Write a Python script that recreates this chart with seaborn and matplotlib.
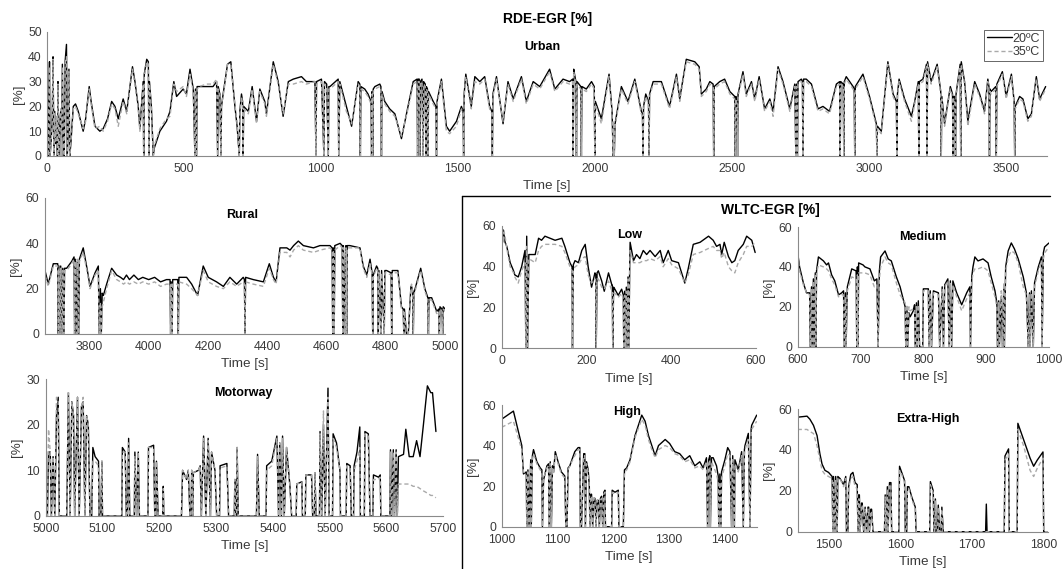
import numpy as np
import matplotlib
matplotlib.use("Agg")
import matplotlib.pyplot as plt
from matplotlib.lines import Line2D
import seaborn as sns

# ---------------- data: (time [s], EGR 20ºC [%], EGR 35ºC [%]) ----------------
urban_data = [
(0,10,8),(3,0,0),(5,20,18),(8,38,36),(10,0,0),(14,6,5),(18,15,14),(21,40,39),(24,0,0),(27,18,17),
(30,5,6),(34,15,16),(37,0,0),(39,30,29),(42,0,0),(45,12,11),(49,18,19),(52,0,0),(55,37,36),(58,8,9),
(62,0,0),(65,38,37),(70,45,40),(73,0,0),(76,10,12),(79,35,34),(82,0,0),(86,5,6),(90,12,10),
(95,20,19),(103,21,20),(113,18,17),(131,10,11),(140,15,14),(153,28,27),(160,22,21),(174,12,11),
(192,10,12),(204,11,10),(220,15,14),(235,22,21),(247,20,19),(259,15,12),(270,20,18),(277,23,22),
(290,18,17),(311,36,35),(320,30,29),(332,20,19),(338,11,10),(350,30,29),(352,0,0),(354,33,32),
(363,39,38),(369,38,37),(371,0,0),(373,30,29),(380,20,19),(387,0,0),(390,3,4),(411,10,11),
(435,14,15),(448,18,16),(462,30,29),(472,24,26),(496,27,28),(508,25,24),(521,35,33),(533,27,26),
(539,0,0),(541,27,26),(545,0,0),(547,28,27),(555,28,28),(581,28,29),(605,28,29),(618,30,31),
(622,0,0),(624,28,27),(630,25,24),(634,0,0),(636,20,21),(642,25,24),(658,37,37),(670,38,37),
(685,20,21),(693,12,13),(701,0,0),(703,18,17),(709,25,24),(713,22,21),(715,0,0),(717,20,19),
(734,18,17),(748,28,27),(764,14,13),(776,27,26),(794,22,21),(800,17,16),(825,38,37),(843,30,29),
(861,16,17),(880,30,29),(898,31,29),(928,32,30),(946,30,29),(977,30,30),(981,0,0),(983,30,29),
(1001,31,30),(1010,0,0),(1012,30,29),(1020,29,28),(1026,0,0),(1028,28,27),(1032,28,27),(1062,31,30),
(1064,0,0),(1068,30,29),(1092,20,18),(1111,12,13),(1135,30,29),(1141,29,28),(1143,0,0),(1145,28,27),
(1159,27,26),(1171,25,24),(1182,22,21),(1184,0,0),(1186,26,25),(1188,0,0),(1190,27,26),(1196,28,27),
(1214,29,28),(1218,28,27),(1220,0,0),(1222,26,25),(1232,22,21),(1250,19,18),(1269,17,16),(1293,7,8),
(1317,20,19),(1336,30,29),(1350,31,30),(1352,0,0),(1354,31,30),(1358,31,30),(1360,0,0),(1362,30,29),
(1368,31,30),(1372,0,0),(1374,30,29),(1380,29,28),(1382,0,0),(1384,28,27),(1388,27,26),(1390,0,0),
(1392,26,25),(1409,22,21),(1419,20,19),(1421,0,0),(1423,22,21),(1439,31,30),(1457,12,10),(1469,10,9),
(1494,14,12),(1512,20,19),(1518,18,17),(1520,0,0),(1522,25,24),(1528,33,32),(1548,20,19),(1561,32,30),
(1579,30,29),(1597,32,31),(1615,20,19),(1623,18,17),(1625,0,0),(1627,25,24),(1640,32,31),(1664,13,14),
(1682,30,29),(1701,23,22),(1731,32,31),(1749,22,21),(1774,30,29),(1798,28,27),(1834,35,34),(1853,27,26),
(1883,31,30),(1907,30,29),(1918,31,30),(1920,0,0),(1922,35,34),(1925,33,32),(1930,30,29),(1932,0,0),
(1934,30,29),(1948,28,27),(1950,0,0),(1952,28,27),(1968,27,26),(1987,30,29),(1997,28,27),(1999,0,0),
(2001,22,21),(2023,15,13),(2051,33,32),(2062,18,17),(2066,0,0),(2068,13,14),(2070,0,0),(2073,13,12),
(2096,28,27),(2120,22,21),(2145,31,30),(2169,18,17),(2173,17,16),(2175,0,0),(2177,20,19),(2185,25,24),
(2195,22,21),(2197,0,0),(2199,25,24),(2212,30,29),(2242,30,29),(2272,20,19),(2297,33,32),(2309,23,22),
(2333,39,38),(2364,38,37),(2380,36,35),(2388,25,24),(2406,27,26),(2419,30,29),(2431,29,28),(2433,0,0),
(2435,28,27),(2455,30,29),(2473,31,30),(2492,26,25),(2510,24,23),(2512,0,0),(2514,24,23),(2518,22,21),
(2520,0,0),(2522,25,24),(2540,34,33),(2552,25,24),(2571,30,29),(2583,23,22),(2599,32,31),(2619,19,18),
(2638,23,22),(2650,18,16),(2668,36,35),(2686,30,29),(2711,19,18),(2729,29,28),(2733,0,0),(2735,29,28),
(2739,0,0),(2741,30,29),(2753,31,30),(2757,30,29),(2759,0,0),(2761,31,30),(2771,31,30),(2790,29,28),
(2814,19,18),(2832,20,19),(2856,18,17),(2881,29,28),(2893,30,29),(2895,0,0),(2897,30,29),(2906,29,28),
(2908,0,0),(2910,30,29),(2917,32,31),(2942,28,27),(2946,27,26),(2948,0,0),(2950,28,27),(2978,33,32),
(3002,24,23),(3027,13,12),(3029,0,0),(3031,12,11),(3045,10,9),(3069,38,37),(3088,25,24),(3100,22,21),
(3102,0,0),(3104,25,24),(3110,31,30),(3130,23,22),(3155,16,14),(3167,22,21),(3180,30,29),(3182,0,0),
(3184,30,29),(3197,31,30),(3210,37,36),(3212,0,0),(3214,38,37),(3227,30,29),(3249,37,36),(3262,26,25),
(3264,0,0),(3266,24,23),(3276,13,12),(3297,28,27),(3305,25,24),(3307,0,0),(3309,24,23),(3313,24,23),
(3316,0,0),(3318,25,24),(3333,37,36),(3335,0,0),(3337,38,37),(3349,30,29),(3361,14,12),(3386,30,29),
(3404,25,24),(3422,18,17),(3434,31,30),(3438,28,27),(3440,0,0),(3442,27,26),(3446,26,25),(3463,28,27),
(3465,0,0),(3467,29,28),(3487,34,33),(3501,24,23),(3520,33,32),(3530,22,21),(3532,0,0),(3534,20,19),
(3550,24,23),(3562,23,22),(3580,15,14),(3593,17,16),(3611,32,31),(3623,23,22),(3645,28,27),
]

rural_data = [
(3650,28,26),(3661,22,21),(3678,31,30),(3693,31,30),(3695,0,0),(3697,30,29),(3701,0,0),(3703,30,29),
(3708,0,0),(3710,29,28),(3714,0,0),(3716,29,28),(3723,29,28),(3740,32,31),(3748,34,33),(3750,0,0),
(3752,33,32),(3757,0,0),(3759,32,33),(3764,0,0),(3766,33,32),(3779,38,36),(3793,28,27),(3802,21,20),
(3819,27,26),(3830,30,28),(3833,0,0),(3837,20,14),(3840,0,0),(3843,18,12),(3847,17,14),(3858,22,20),
(3875,29,28),(3892,26,24),(3905,25,23),(3915,24,22),(3925,26,23),(3935,24,22),(3950,26,23),(3965,24,22),
(3980,25,23),(4000,24,22),(4020,25,23),(4040,23,21),(4060,24,22),(4072,24,22),(4074,0,0),(4076,23,22),
(4079,0,0),(4081,24,22),(4098,24,22),(4100,0,0),(4102,25,23),(4128,25,22),(4145,22,20),(4165,17,17),
(4184,30,28),(4201,25,23),(4229,23,21),(4252,21,20),(4274,25,23),(4297,22,21),(4319,25,23),(4323,24,22),
(4325,0,0),(4327,25,23),(4353,24,22),(4387,23,21),(4407,31,29),(4421,25,24),(4430,23,22),(4443,38,36),
(4466,38,36),(4477,37,34),(4489,39,37),(4505,41,39),(4522,39,37),(4556,38,36),(4578,39,37),(4612,39,38),
(4619,38,37),(4621,0,0),(4623,38,37),(4626,0,0),(4628,39,37),(4646,40,39),(4653,39,38),(4655,0,0),
(4657,39,38),(4664,0,0),(4666,39,38),(4668,0,0),(4670,39,38),(4679,39,38),(4713,38,38),(4724,30,29),
(4736,26,25),(4747,33,31),(4754,27,26),(4756,0,0),(4758,26,25),(4769,30,29),(4773,29,28),(4775,0,0),
(4777,28,27),(4784,0,0),(4786,28,27),(4795,0,0),(4797,28,27),(4803,28,27),(4818,27,26),(4820,0,0),
(4822,28,27),(4841,28,27),(4853,12,11),(4859,11,10),(4861,0,0),(4863,11,10),(4870,0,0),(4876,0,0),
(4885,21,20),(4887,21,22),(4891,19,18),(4893,0,0),(4895,18,17),(4918,29,28),(4932,20,19),(4942,16,15),
(4944,0,0),(4946,16,15),(4955,16,15),(4972,10,9),(4979,11,10),(4981,0,0),(4983,12,11),(4990,11,10),
(4992,0,0),(4994,12,11),(5000,11,10),
]

motorway_data = [
(5000,0,0),(5003,0,0),(5005,14,19),(5008,14,14),(5010,0,0),(5013,13,13),(5016,0,0),(5019,22,26),
(5022,26,25),(5024,0,0),(5037,0,0),(5040,27,27),(5043,0,0),(5046,25,25),(5049,22,22),(5051,0,0),
(5056,26,26),(5059,0,0),(5063,24,24),(5066,25,26),(5069,0,0),(5072,22,22),(5075,20,20),(5078,0,0),
(5081,0,0),(5083,15,12),(5087,13,12),(5093,12,11),(5094,0,0),(5097,0,0),(5099,12,12),(5100,0,0),
(5134,0,0),(5135,15,14),(5140,14,14),(5142,0,0),(5144,0,0),(5146,17,16),(5148,0,0),(5156,0,0),
(5157,14,13),(5160,0,0),(5163,14,14),(5165,0,0),(5180,0,0),(5181,15,15),(5190,15.5,15),(5192,0,0),
(5194,0,0),(5195,12,12),(5198,0,0),(5206,0,0),(5207,6.5,6),(5208,0,0),(5239,0,0),(5241,10,10),
(5248,8,8),(5251,10,10),(5254,0,0),(5256,0,0),(5257,10,10),(5259,0,0),(5260,9.5,9.5),(5269,10,10),
(5272,11,11),(5274,0,0),(5278,17.5,17),(5282,0,0),(5286,17,16.5),(5290,0,0),(5292,14,14),(5298,10,10),
(5301,0,0),(5306,0,0),(5307,11,10.5),(5319,11.5,11),(5322,0,0),(5332,0,0),(5333,8,8),(5334,0,0),
(5336,0,0),(5337,15,15),(5339,0,0),(5371,0,0),(5373,13.5,13),(5376,0,0),(5388,0,0),(5389,11,10),
(5398,12,11),(5407,17.5,17),(5410,0,0),(5412,16,16),(5415,0,0),(5417,17.5,17),(5420,0,0),(5424,15,15),
(5430,6.5,6.5),(5433,0,0),(5441,0,0),(5442,7,7),(5451,7.5,7.5),(5452,0,0),(5457,0,0),(5458,9,9),
(5468,9,9),(5470,0,0),(5473,0,0),(5474,9.5,9.5),(5476,0,0),(5482,0,0),(5483,18.5,18),(5486,0,0),
(5489,20,23),(5492,0,0),(5497,28,26),(5499,0,0),(5505,0,0),(5506,18,17),(5512,16,15),(5518,10,10),
(5519,0,0),(5529,0,0),(5530,11.5,11),(5536,11,10.5),(5538,0,0),(5542,0,0),(5543,11,10),(5548,14,12),
(5553,19.5,15),(5554,0,0),(5561,0,0),(5562,18.5,18),(5568,18,17.5),(5571,0,0),(5576,0,0),(5577,9,8),
(5586,8.5,8),(5589,9,8.5),(5590,0,0),(5606,0,0),(5607,14.5,14),(5609,0,0),(5612,14.5,14),(5614,0,0),
(5617,14.5,14),(5619,0,0),(5621,13,7),(5630,13.5,7),(5634,19,7),(5640,13,7),(5647,13,6.5),
(5653,16.5,6.5),(5659,13,6),(5665,20,5.5),(5672,28.5,5),(5678,27,4.5),(5681,27,4.5),(5687,18.5,4),
]

low_data = [
(0,60,58),(2,52,58),(4,58,52),(6,55,57),(8,52,55),(12,50,49),(20,42,40),(28,38,37),(31,36,35),
(39,35,32),(47,40,38),(55,48,42),(57,0,0),(59,55,50),(61,0,0),(64,46,44),(79,46,42),(87,54,48),
(94,53,50),(102,55,51),(126,53,51),(142,54,50),(149,50,47),(161,42,40),(166,40,38),(167,0,0),
(169,41,38),(173,43,40),(181,42,41),(189,48,44),(197,51,45),(204,40,36),(212,30,32),(220,37,34),
(222,36,33),(223,0,0),(225,37,34),(228,38,34),(236,33,30),(242,28,29),(252,37,33),(260,31,28),
(261,31,28),(262,0,0),(264,30,27),(267,29,27),(275,26,25),(283,29,27),(287,26,24),(288,0,0),
(290,28,26),(292,0,0),(294,30,28),(296,0,0),(298,35,34),(300,0,0),(302,40,38),(303,52,48),
(311,43,42),(318,46,42),(326,44,42),(334,48,43),(342,46,43),(350,48,44),(362,45,43),(374,48,45),
(381,42,40),(393,48,44),(401,43,41),(417,42,39),(432,32,32),(440,39,36),(452,51,46),(468,52,47),
(488,55,49),(499,53,50),(507,50,48),(515,51,48),(519,46,44),(525,52,47),(535,45,40),(543,42,38),
(550,43,37),(558,48,42),(570,51,46),(578,55,50),(590,53,50),(598,47,52),
]

medium_data = [
(600,47,46),(603,40,38),(609,32,31),(614,27,27),(619,27,26),(620,0,0),(622,30,29),(623,0,0),
(625,34,33),(626,0,0),(628,37,36),(629,0,0),(630,38,37),(633,45,41),(641,43,40),(646,41,39),
(649,42,38),(654,36,34),(659,33,31),(665,26,25),(670,27,26),(673,28,26),(674,0,0),(676,27,25),
(677,0,0),(679,30,28),(686,39,35),(693,38,34),(694,0,0),(695,40,36),(696,0,0),(697,42,37),
(704,41,37),(707,40,37),(715,39,36),(722,33,30),(726,34,31),(728,0,0),(730,38,34),(732,45,40),
(739,48,45),(744,44,42),(749,43,41),(757,35,32),(763,30,26),(771,20,22),(772,0,0),(774,19,21),
(775,0,0),(777,17,20),(779,15,18),(784,18,19),(786,21,19),(787,0,0),(789,22,20),(790,0,0),
(792,23,21),(794,0,0),(799,0,0),(800,29,28),(808,29,28),(809,0,0),(811,28,27),(813,0,0),
(816,28,27),(824,27,26),(826,0,0),(830,30,29),(832,0,0),(834,31,30),(839,34,33),(841,0,0),
(843,33,32),(845,0,0),(847,33,31),(853,27,25),(861,21,18),(869,27,24),(874,30,27),(875,0,0),
(877,35,32),(879,40,37),(882,45,39),(887,43,39),(895,44,40),(903,42,38),(908,35,32),(914,28,25),
(917,22,20),(918,0,0),(920,23,22),(921,0,0),(924,25,28),(926,0,0),(928,30,32),(929,0,0),
(931,40,38),(935,48,45),(940,52,48),(945,49,47),(951,44,42),(959,35,30),(964,27,26),(967,0,0),
(969,27,26),(970,0,0),(972,28,27),(975,0,0),(977,32,30),(983,40,38),(988,45,43),(989,0,0),
(991,47,44),(993,50,47),(1000,52,50),
]

high_data = [
(1000,53,49),(1021,57,52),(1036,40,38),(1039,26,27),(1044,27,26),(1045,0,0),(1047,28,27),(1049,0,0),
(1052,33,31),(1053,0,0),(1055,35,33),(1057,38,36),(1063,32,31),(1069,29,28),(1072,28,27),(1073,0,0),
(1075,23,24),(1081,30,29),(1084,31,30),(1085,0,0),(1087,32,31),(1089,0,0),(1091,30,29),(1093,27,26),
(1096,37,36),(1101,32,31),(1107,27,26),(1113,25,24),(1115,0,0),(1117,0,0),(1119,29,28),(1122,30,30),
(1131,37,35),(1137,39,38),(1140,39,38),(1141,0,0),(1143,0,0),(1147,36,35),(1149,36,35),(1150,0,0),
(1152,32,31),(1155,28,27),(1157,20,20),(1158,0,0),(1160,16,15),(1161,16,15),(1163,0,0),(1165,14,14),
(1167,14,13),(1169,0,0),(1171,13,13),(1173,13,12),(1175,0,0),(1177,14,13),(1179,15,14),(1181,0,0),
(1183,17,16),(1185,18,17),(1186,0,0),(1197,0,0),(1198,18,17),(1203,17,16),(1209,18,17),(1210,0,0),
(1218,0,0),(1220,28,27),(1224,29,28),(1230,33,32),(1239,45,44),(1251,55,53),(1257,52,50),(1263,45,43),
(1269,40,38),(1275,35,34),(1281,40,38),(1293,43,40),(1301,41,39),(1310,37,36),(1319,36,35),(1328,33,32),
(1337,35,33),(1346,30,29),(1355,32,30),(1361,29,28),(1367,34,32),(1369,0,0),(1371,33,31),(1373,35,33),
(1374,0,0),(1376,34,32),(1379,34,30),(1385,30,26),(1388,25,22),(1389,0,0),(1391,26,22),(1393,0,0),
(1394,27,24),(1400,33,30),(1405,39,36),(1409,37,35),(1412,0,0),(1414,35,33),(1417,0,0),(1418,33,31),
(1424,28,27),(1430,37,35),(1433,0,0),(1435,38,36),(1436,40,38),(1442,46,43),(1445,0,0),(1447,48,46),
(1448,50,48),(1457,55,52),
]

extra_high_data = [
(1457,56,50),(1470,56.5,50),(1474,55,49),(1479,52,48),(1484,47,42),(1488,38,35),(1491,33,30),
(1495,30,28),(1500,29,27),(1505,27,26),(1506,0,0),(1507,27,25),(1509,0,0),(1510,27,25),(1512,0,0),
(1513,27,26),(1516,26,26),(1521,23,22),(1524,27,26),(1525,0,0),(1527,0,0),(1528,22,21),(1531,28,26),
(1534,29,27),(1537,24,22),(1540,23,21),(1541,0,0),(1542,18,16),(1543,18,16),(1544,0,0),(1546,14,13),
(1547,14,13),(1549,0,0),(1551,12,11),(1553,0,0),(1555,12,11),(1556,12,11),(1557,0,0),(1559,11,10),
(1560,11,10),(1562,0,0),(1578,0,0),(1579,18,17),(1580,0,0),(1582,22,21),(1583,0,0),(1585,24,23),
(1587,24,23),(1588,0,0),(1598,0,0),(1599,32,30),(1602,29,28),(1606,25,24),(1607,0,0),(1609,0,0),
(1610,22,21),(1612,22,21),(1616,17,16),(1621,12,11),(1622,0,0),(1641,0,0),(1642,24.5,23),(1646,20,19),
(1647,0,0),(1648,0,0),(1649,16,15),(1650,0,0),(1652,0,0),(1653,13,12),(1655,0,0),(1657,0,0),
(1658,12,11),(1660,0,0),(1719,0,0),(1720,13.5,0),(1721,0,0),(1745,0,0),(1746,37,35),(1751,40.5,38),
(1752,0,0),(1763,0,0),(1764,53,50),(1772,45,42),(1781,36,30),(1786,32,27),(1791,35,31),(1799,39,36),
(1800,0,0),(1806,0,0),
]

series_labels = ["20ºC", "35ºC"]
main_title = "RDE-EGR [%]"
wltc_title = "WLTC-EGR [%]"
x_label = "Time [s]"
y_label = "[%]"

# ---------------- style ----------------
sns.set_style("white")
plt.rcParams["font.family"] = ["Liberation Sans", "DejaVu Sans"]
SPINE_COL = "#8a8a8a"
TXT_COL = "#3a3a3a"
C20 = "black"
C35 = "#a9a9a9"

W, H = 1064, 569
fig = plt.figure(figsize=(W / 100, H / 100), dpi=100)


def px_axes(left, top, right, bottom):
    return fig.add_axes([left / W, 1 - bottom / H, (right - left) / W, (bottom - top) / H])


def panel(ax, data, xlim, ylim, xticks, yticks, legend=False):
    arr = np.array(data, dtype=float)
    t, v20, v35 = arr[:, 0], arr[:, 1], arr[:, 2]
    sns.lineplot(x=t, y=v20, ax=ax, color=C20, lw=1.0, estimator=None, sort=False,
                 label=series_labels[0])
    sns.lineplot(x=t, y=v35, ax=ax, color=C35, lw=1.0, estimator=None, sort=False,
                 linestyle=(0, (3, 2)), label=series_labels[1])
    ax.set_xlim(*xlim)
    ax.set_ylim(*ylim)
    ax.set_xticks(xticks)
    ax.set_yticks(yticks)
    for s in ("top", "right"):
        ax.spines[s].set_visible(False)
    for s in ("left", "bottom"):
        ax.spines[s].set_color(SPINE_COL)
        ax.spines[s].set_linewidth(0.8)
    ax.tick_params(direction="in", length=3, width=0.6, color=SPINE_COL,
                   labelcolor=TXT_COL, labelsize=8.8)
    ax.tick_params(axis="x", pad=5)
    ax.tick_params(axis="y", pad=4)
    ax.set_xlabel(x_label, fontsize=9.7, color=TXT_COL, labelpad=4)
    ax.set_ylabel(y_label, fontsize=9.7, color=TXT_COL, labelpad=2.5)
    ax.patch.set_alpha(0)
    if legend:
        leg = ax.legend(loc="upper right", bbox_to_anchor=(0.996, 1.02), fontsize=9,
                        frameon=True, fancybox=False, handlelength=2.0, handletextpad=0.0,
                        borderpad=0.25, labelspacing=0.1, borderaxespad=0)
        leg.get_frame().set_edgecolor("#404040")
        leg.get_frame().set_linewidth(0.7)
        for txt in leg.get_texts():
            txt.set_color(TXT_COL)
    else:
        lg = ax.get_legend()
        if lg is not None:
            lg.remove()


ax_u = px_axes(47.3, 32, 1047, 156)
panel(ax_u, urban_data, (0, 3650), (0, 50), np.arange(0, 3501, 500), np.arange(0, 51, 10), legend=True)

ax_r = px_axes(45, 198, 445, 334)
panel(ax_r, rural_data, (3650, 5000), (0, 60), np.arange(3800, 5001, 200), [0, 20, 40, 60])

ax_m = px_axes(45.7, 379, 443.3, 516)
panel(ax_m, motorway_data, (5000, 5700), (0, 30), np.arange(5000, 5701, 100), [0, 10, 20, 30])

ax_l = px_axes(501.7, 226, 756, 348.3)
panel(ax_l, low_data, (0, 600), (0, 60), [0, 200, 400, 600], [0, 20, 40, 60])

ax_md = px_axes(797.7, 227, 1049, 346.7)
panel(ax_md, medium_data, (600, 1000), (0, 60), np.arange(600, 1001, 100), [0, 20, 40, 60])

ax_h = px_axes(501.7, 405, 756.7, 526.7)
panel(ax_h, high_data, (1000, 1457), (0, 60), np.arange(1000, 1401, 100), [0, 20, 40, 60])

ax_e = px_axes(797.7, 409, 1048, 531.7)
panel(ax_e, extra_high_data, (1457, 1806), (0, 60), np.arange(1500, 1801, 100), [0, 20, 40, 60])

# ---------------- titles ----------------
def ftext(x, y, s, size=9):
    fig.text(x / W, 1 - y / H, s, ha="center", va="center", fontsize=size,
             fontweight="bold", color="black")

ftext(548, 19, main_title, 10)
ftext(542, 47, "Urban")
ftext(242, 215, "Rural")
ftext(243, 393, "Motorway")
ftext(770, 210, wltc_title, 10)
ftext(630, 235, "Low")
ftext(923, 237, "Medium")
ftext(627, 412, "High")
ftext(928, 419, "Extra-High")

# frame lines around the WLTC group
fig.add_artist(Line2D([462 / W, 1050 / W], [1 - 196 / H, 1 - 196 / H], color="black", lw=1.0))
fig.add_artist(Line2D([462 / W, 462 / W], [1 - 196 / H, 0], color="black", lw=1.0))

fig.savefig("out.png", dpi=100)
